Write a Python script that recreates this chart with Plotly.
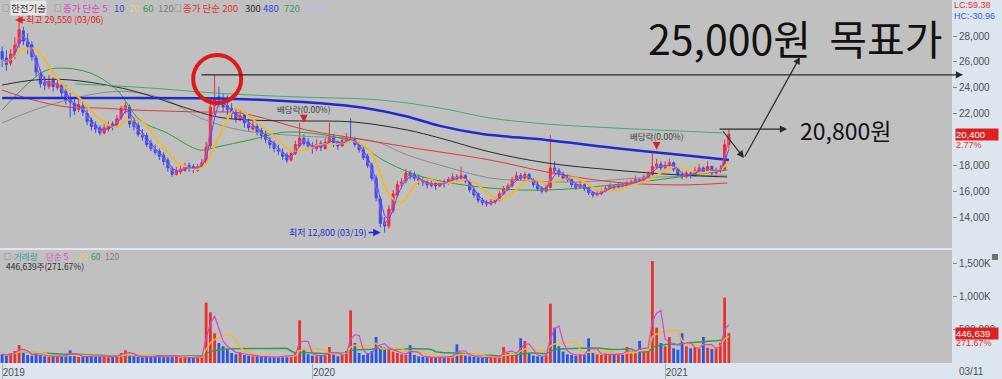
import plotly.graph_objects as go
import pandas as pd

# ---------------- data (one bar per ~3 trading days) ----------------
bar_index = list(range(172))
opens = [26800, 26300, 25900, 26500, 27400, 28400, 27500, 27300, 26300, 25100,
         24400, 24100, 24600, 24000, 24200, 23700, 23100, 22800, 22300, 22600,
         22000, 21500, 21100, 20900, 20500, 20800, 21200, 21000, 21700, 22300,
         22500, 21300, 21100, 20300, 20300, 19700, 19200, 19100, 18800, 18400,
         17700, 17300, 17500, 17600, 18000, 17900, 17600, 17900, 18200, 19500,
         22600, 23300, 23000, 22600, 22400, 22100, 21500, 21900, 21200, 20800,
         21000, 20700, 20400, 19900, 19700, 19200, 19000, 18800, 18400, 18900,
         19500, 20100, 19800, 19500, 19300, 19700, 19300, 19800, 20200, 19800,
         19500, 19900, 20000, 20000, 19700, 19200, 18700, 18000, 17000, 15400,
         13600, 13300, 14500, 15700, 16600, 16800, 17400, 17300, 17000, 16900,
         16700, 16400, 16600, 16400, 16700, 16600, 16900, 17100, 17000, 17200,
         16800, 16100, 15800, 15300, 15100, 15000, 15200, 15300, 15800, 16200,
         16400, 16900, 17200, 17000, 17300, 16900, 16500, 16200, 16000, 16300,
         17800, 17600, 17300, 17000, 16900, 16500, 16300, 16500, 16200, 15900,
         15700, 15800, 16000, 16200, 16400, 16300, 16500, 16400, 16600, 16700,
         16900, 16800, 17100, 17300, 17900, 18100, 17800, 18000, 18200, 17700,
         17300, 17100, 17400, 17200, 17600, 17800, 17500, 17900, 17400, 17600,
         17700, 19600]
highs = [27200, 26900, 27000, 27900, 29550, 28700, 28200, 27600, 26500, 25400,
         24900, 25000, 24800, 24700, 24400, 24200, 23600, 23100, 23200, 22900,
         22300, 21700, 21400, 21100, 21200, 21400, 21400, 21900, 22600, 22900,
         22700, 21700, 21300, 20800, 20500, 20000, 19600, 19300, 19000, 18600,
         17900, 17900, 18000, 18200, 18200, 18100, 18100, 18500, 19800, 23000,
         25000, 24100, 23500, 23400, 22800, 22400, 22300, 22100, 21600, 21500,
         21300, 20900, 20700, 20200, 19900, 19600, 19300, 19000, 19200, 19900,
         21270, 20400, 20100, 19800, 20000, 19900, 20100, 21300, 20400, 19900,
         20300, 20500, 21650, 20200, 19800, 19400, 18900, 18200, 17200, 15600,
         14000, 14900, 16100, 16800, 17000, 17700, 17600, 17500, 17300, 17100,
         16900, 16900, 16800, 16900, 16900, 17100, 17400, 17300, 17900, 17300,
         16900, 16300, 15900, 15500, 15300, 15400, 15500, 16000, 16400, 16600,
         17100, 17500, 17400, 17500, 17400, 17000, 16700, 16400, 16500, 20350,
         18300, 17800, 17500, 17300, 17000, 16700, 16800, 16600, 16300, 16000,
         16000, 16200, 16400, 16600, 16500, 16700, 16600, 16800, 16900, 17200,
         17000, 17300, 17500, 18950, 18500, 18300, 18300, 18500, 18300, 17800,
         17500, 17600, 17500, 17900, 18100, 17900, 18300, 18000, 17800, 18000,
         20000, 20800]
lows = [25600, 25300, 25700, 26200, 27100, 27300, 26600, 26100, 24900, 24000,
        23800, 23900, 23700, 23800, 23300, 22700, 21700, 21900, 22100, 21800,
        21100, 20700, 20500, 20300, 20400, 20600, 20700, 20900, 21500, 22000,
        20900, 20700, 20200, 19900, 19400, 19100, 18800, 18400, 18000, 17500,
        17100, 17200, 17300, 17500, 17500, 17400, 17500, 17800, 18100, 19300,
        21900, 22500, 22100, 21900, 21600, 21300, 21400, 20900, 20600, 20700,
        20300, 20000, 19700, 19300, 19000, 18800, 18400, 18200, 18300, 18800,
        19400, 19500, 19200, 18900, 19100, 19100, 19200, 19600, 19400, 19200,
        19400, 19700, 19800, 19400, 19000, 18400, 17800, 16800, 15200, 13200,
        12800, 13100, 14300, 15500, 16200, 16600, 16900, 16800, 16500, 16400,
        16200, 16300, 16100, 16300, 16300, 16500, 16800, 16800, 16900, 16600,
        15900, 15500, 15100, 14900, 14800, 14900, 15000, 15200, 15700, 16000,
        16300, 16800, 16800, 16900, 16700, 16300, 16000, 15800, 15900, 16200,
        17300, 17100, 16800, 16700, 16300, 16100, 16200, 16000, 15700, 15500,
        15600, 15700, 15900, 16100, 16100, 16200, 16200, 16300, 16500, 16600,
        16600, 16700, 17000, 17200, 17700, 17600, 17700, 17900, 17500, 17100,
        16900, 17000, 17000, 17100, 17500, 17300, 17400, 17200, 17300, 17400,
        17600, 19300]
closes = [26200, 25800, 26600, 27300, 28500, 27600, 27200, 26400, 25200, 24300,
          24200, 24500, 24100, 24300, 23600, 23000, 22900, 22200, 22700, 22100,
          21400, 21000, 20800, 20500, 20900, 21100, 21000, 21600, 22400, 22600,
          21200, 21000, 20400, 20200, 19600, 19300, 19000, 18700, 18300, 17800,
          17300, 17600, 17700, 17900, 17800, 17700, 17900, 18200, 19400, 22500,
          23200, 22900, 22500, 22300, 22000, 21600, 21800, 21300, 20900, 21000,
          20600, 20300, 20000, 19600, 19300, 19100, 18700, 18400, 18900, 19600,
          20100, 19700, 19500, 19300, 19600, 19400, 19800, 20200, 19700, 19500,
          19900, 20100, 20000, 19600, 19200, 18600, 18000, 17000, 15500, 13500,
          13300, 14600, 15800, 16500, 16700, 17400, 17200, 17000, 16800, 16700,
          16500, 16600, 16400, 16700, 16600, 16900, 17100, 17000, 17200, 16800,
          16100, 15700, 15300, 15100, 15000, 15200, 15300, 15800, 16200, 16400,
          16900, 17200, 17000, 17300, 16900, 16500, 16200, 16000, 16300, 17800,
          17600, 17300, 17000, 16900, 16500, 16300, 16500, 16200, 15900, 15700,
          15800, 16000, 16200, 16400, 16300, 16500, 16400, 16600, 16700, 16900,
          16800, 17100, 17300, 17900, 18100, 17800, 18000, 18200, 17700, 17300,
          17100, 17400, 17200, 17600, 17800, 17500, 17900, 17400, 17600, 17700,
          19600, 20400]
volumes_k = [130, 110, 150, 180, 270, 160, 120, 110, 140, 120,
             100, 90, 110, 95, 100, 120, 190, 110, 90, 100,
             95, 110, 100, 120, 90, 85, 100, 110, 150, 190,
             130, 100, 90, 85, 100, 95, 90, 110, 100, 120,
             110, 90, 80, 85, 75, 80, 90, 110, 905, 760,
             445, 300, 250, 200, 150, 130, 160, 120, 110, 100,
             100, 90, 95, 85, 90, 100, 95, 110, 120, 150,
             640, 200, 130, 110, 100, 120, 110, 240, 130, 100,
             120, 180, 790, 300, 150, 120, 140, 180, 390, 250,
             230, 200, 170, 150, 130, 120, 270, 120, 100, 90,
             85, 90, 80, 85, 90, 100, 110, 280, 150, 110,
             100, 90, 85, 80, 85, 90, 95, 110, 240, 150,
             140, 150, 370, 330, 150, 110, 100, 95, 120, 890,
             530, 250, 170, 130, 120, 110, 130, 120, 370, 150,
             130, 120, 140, 130, 120, 150, 140, 240, 160, 150,
             330, 170, 180, 1530, 530, 300, 250, 390, 220, 200,
             445, 250, 220, 230, 210, 390, 230, 210, 220, 300,
             980, 446.639]

# long moving averages (bar index, price)
ma60_idx = [0, 9.6, 13.6, 20.7, 27, 32.4, 38.8, 46.6, 50.6, 58.3, 67.7, 83.5, 89.6, 99, 114.8, 128.2, 143.7, 159.5, 170.6]
ma60_val = [22280, 25220, 25520, 25140, 23820, 21500, 20500, 19180, 19420, 19960, 20580, 19720, 18410, 17100, 16240, 16090, 16480, 17100, 17640]
ma120_idx = [0, 8.9, 23, 30.8, 38.8, 46.6, 56, 70, 87.3, 95.3, 103, 114.8, 124.2, 136, 150.1, 170.6]
ma120_val = [21270, 22430, 23590, 23670, 23050, 21660, 20730, 20270, 19880, 18800, 18020, 17020, 16790, 16710, 17020, 17250]
ma200_idx = [0, 7.3, 15.3, 23, 30.8, 46.6, 56, 71.7, 82.6, 95.3, 114.8, 128.2, 143.7, 159.5, 170.6]
ma200_val = [23820, 23050, 22510, 22430, 22280, 22120, 22050, 20730, 20110, 19420, 18410, 17480, 16710, 16480, 16630]
ma300_idx = [0, 7.8, 16, 30.1, 42.6, 50.6, 58.3, 70, 82.6, 95.3, 103, 114.8, 128.2, 143.7, 159.5, 170.6]
ma300_val = [24210, 24600, 24600, 23820, 22510, 21740, 21500, 21430, 21350, 20730, 20110, 19030, 18180, 17640, 17250, 17100]
ma480_idx = [0, 23, 47, 55, 65, 75, 85, 95, 103, 113, 128, 144, 160, 171]
ma480_val = [23200, 23200, 23180, 23130, 23000, 22800, 22450, 21800, 21050, 20420, 19960, 19340, 18800, 18410]
ma720_idx = [17.2, 34.8, 46.6, 58.3, 70, 88.9, 103, 114.8, 128.2, 143.7, 159.5, 169.4]
ma720_val = [24290, 23980, 23670, 23440, 23280, 23050, 22430, 21660, 21190, 20890, 20650, 20500]

year_tick_index = [0, 73, 156]
year_tick_labels = ["2019", "2020", "2021"]
last_date_label = "03/11"
price_ticks = [14000, 16000, 18000, 22000, 24000, 26000, 28000]
vol_ticks = [500000, 1000000, 1500000]
vol_tick_labels = ["500,000", "1,000K", "1,500K"]
dividend_bars = [71, 154]

# ---------------- styling / layout constants ----------------
W, H = 1002, 379
MR, MB = 50, 16
PW, PH = W - MR, H - MB
PX_PER_BAR = 4.25
RED = "#e8302c"
BLUE = "#2a55e0"
BG = "#c0c0c0"
PAPER = "#dde5ee"
TXT = "#505050"
FONT_KR = "Noto Sans CJK KR"
FONT_AX = "Liberation Sans Narrow, Liberation Sans, Arial"

def xp(px):
    return px / PW

def yp(py):
    return 1 - py / PH

close_s = pd.Series(closes)
vol = [v * 1000 for v in volumes_k]
vol_s = pd.Series(vol)
bar_windows = {5: 2, 10: 3, 20: 7, 60: 20}

fig = go.Figure()
fig.add_trace(go.Candlestick(
    x=bar_index, open=opens, high=highs, low=lows, close=closes,
    increasing=dict(line=dict(color=RED, width=1), fillcolor=RED),
    decreasing=dict(line=dict(color=BLUE, width=1), fillcolor=BLUE),
    whiskerwidth=0, xaxis="x", yaxis="y", showlegend=False, hoverinfo="skip"))

def line(x, y, color, width, yaxis="y", shape="linear"):
    fig.add_trace(go.Scatter(x=x, y=y, mode="lines", line=dict(color=color, width=width, shape=shape),
                             xaxis="x", yaxis=yaxis, showlegend=False, hoverinfo="skip"))

line(ma120_idx, ma120_val, "#8c8c8c", 1, shape="spline")
line(ma60_idx, ma60_val, "#2f9e44", 1, shape="spline")
line(ma200_idx, ma200_val, "#e03a3a", 1, shape="spline")
line(ma300_idx, ma300_val, "#2a2a2a", 1, shape="spline")
line(ma720_idx, ma720_val, "#3fae6a", 1, shape="spline")
line(ma480_idx, ma480_val, "#1f2ad0", 2.5, shape="spline")
line(bar_index, close_s.rolling(bar_windows[20], min_periods=1).mean(), "#f2b632", 2)
line(bar_index, close_s.rolling(bar_windows[10], min_periods=1).mean(), "#3b5bff", 1)
line(bar_index, close_s.rolling(bar_windows[5], min_periods=1).mean(), "#e044d8", 1)

vol_colors = [RED if c >= o else BLUE for o, c in zip(opens, closes)]
fig.add_trace(go.Bar(x=bar_index, y=vol, marker=dict(color=vol_colors, line=dict(width=0)),
                     width=0.65, xaxis="x", yaxis="y2", showlegend=False, hoverinfo="skip"))
line(bar_index, vol_s.rolling(bar_windows[60], min_periods=1).mean(), "#2f9e44", 1.5, "y2")
line(bar_index, vol_s.rolling(bar_windows[20], min_periods=1).mean(), "#f2b632", 1.5, "y2")
line(bar_index, vol_s.rolling(3, min_periods=1).mean(), "#d444d0", 1.2, "y2")

ann = []
def text(px, py, s, color, size, anchor="left", family=FONT_KR, bg=None):
    d = dict(xref="paper", yref="paper", x=xp(px), y=yp(py), text=s, showarrow=False,
             xanchor=anchor, yanchor="middle", font=dict(family=family, size=size, color=color),
             borderpad=0)
    if bg:
        d["bgcolor"] = bg
    ann.append(d)

# price legend
for px, s, c, bg, sz in [(1, "□", "#6a6a6a", None, 7.5), (10, "한전기술", "#383838", "#e6e6e6", 9.5),
                         (53, "□", "#6a6a6a", None, 7.5), (62, "종가 단순 5", "#e040c8", None, 9.5),
                         (113, "10", "#3048e0", None, 9.5), (128, "20", "#e8d070", None, 9.5),
                         (142, "60", "#2f9e44", None, 9.5), (157, "120", "#7a7a7a", None, 9.5),
                         (173, "□", "#6a6a6a", None, 7.5), (182, "종가 단순 200", "#e03030", None, 9.5),
                         (244, "300", "#2a2a2a", None, 9.5), (262, "480", "#3048e0", None, 9.5),
                         (283, "720", "#2f9e60", None, 9.5), (303, "1200", "#c8b4ec", None, 9.5)]:
    text(px, 7.5, s, c, sz, bg=bg)
# volume legend
for px, s, c, sz in [(3, "□", "#6a6a6a", 7), (13, "거래량", "#2fa0a0", 8.5), (45, "단순 5", "#e040c8", 8.5),
                     (77, "20", "#e8d070", 8.5), (90, "60", "#2f9e44", 8.5), (104, "120", "#7a7a7a", 8.5)]:
    text(px, 256, s, c, sz)
text(5, 266, "446,639주(271.67%)", "#303030", 8.5)

# big callouts
text(647, 37, "25,000원  목표가", "#111111", 41)
text(799, 130, "20,800원", "#111111", 23)

# high / low markers
ann.append(dict(x=4, y=highs[4], xref="x", yref="y", text="최고 29,550 (03/06)", showarrow=True,
                ax=10, ay=0, xanchor="left", arrowhead=2, arrowsize=1, arrowwidth=1.5,
                arrowcolor="#e02020", xshift=-4, yshift=-4, borderpad=0,
                font=dict(family=FONT_KR, size=9, color="#e02020")))
ann.append(dict(x=90, y=lows[90], xref="x", yref="y", text="최저 12,800 (03/19)", showarrow=True,
                ax=-12, ay=0, xanchor="right", arrowhead=2, arrowsize=1, arrowwidth=1.5,
                arrowcolor="#2030d0", xshift=-4, font=dict(family=FONT_KR, size=9, color="#2030d0")))
# dividend markers
for b, off in zip(dividend_bars, [900, 700]):
    ann.append(dict(x=b, y=highs[b] + off, xref="x", yref="y", text="배당락(0.00%)", showarrow=True,
                    ax=0, ay=-14, arrowhead=2, arrowsize=1.3, arrowwidth=1.2, arrowcolor="#e02020",
                    font=dict(family=FONT_KR, size=8.5, color="#404040")))

# arrows
arrow = dict(text="", showarrow=True, arrowhead=2, arrowsize=1.2, arrowwidth=1.2, arrowcolor="#2a2a2a",
             axref="pixel", ayref="pixel")
ann.append(dict(arrow, xref="paper", yref="y", x=xp(963), y=25000, ax=200 - 963, ay=0))
ann.append(dict(arrow, xref="paper", yref="y", x=xp(787), y=20800, ax=718 - 787, ay=0))
ann.append(dict(arrow, xref="paper", yref="paper", x=xp(744), y=yp(158), ax=-22, ay=-28))
ann.append(dict(arrow, xref="paper", yref="paper", x=xp(800), y=yp(57), ax=-56, ay=101))

# right side info
text(953, 5.5, "LC:59.38", "#e03030", 9, family=FONT_AX)
text(953, 15.5, "HC:-30.96", "#3060d0", 9, family=FONT_AX)
ann.append(dict(xref="paper", yref="y", x=xp(955), y=closes[-1], text="20,400", showarrow=False,
                xanchor="left", yanchor="middle", bgcolor="#e02020", width=42, align="left",
                borderpad=0, font=dict(family=FONT_AX, size=9.5, color="white")))
text(955, 145, "2.77%", "#e03030", 9, family=FONT_AX)
ann.append(dict(xref="paper", yref="y2", x=xp(955), y=vol[-1], text="446,639", showarrow=False,
                xanchor="left", yanchor="middle", bgcolor="#e02020", width=42, align="left",
                borderpad=0, font=dict(family=FONT_AX, size=9.5, color="white")))
text(955, 343, "271.67%", "#e03030", 9, family=FONT_AX)
text(958, 371, last_date_label, TXT, 10, family=FONT_AX)

shapes = [
    dict(type="circle", xref="x", yref="y", xsizemode="pixel", ysizemode="pixel",
         xanchor=50.6, yanchor=24670, x0=-24, x1=24, y0=-24, y1=24,
         line=dict(color="#e01818", width=4)),
    dict(type="rect", xref="paper", yref="paper", x0=xp(992), x1=xp(998), y0=yp(260), y1=yp(254),
         fillcolor="#6e6e6e", line=dict(width=0)),
]

price_top = 28000 + 36 / 0.01293
price_bot = 28000 - (248 - 36) / 0.01293
vol_top = 1500000 * (PH - 250) / (PH - 263)

fig.update_layout(
    width=W, height=H, margin=dict(l=0, r=MR, t=0, b=MB),
    paper_bgcolor=PAPER, plot_bgcolor=BG, showlegend=False,
    annotations=ann, shapes=shapes,
    xaxis=dict(domain=[0, 1], range=[-0.5, PW / PX_PER_BAR - 0.5], type="linear", anchor="y2",
               tickvals=year_tick_index, ticktext=year_tick_labels, ticks="outside", ticklen=16,
               tickcolor="#aab2bc", ticklabelposition="outside right", showgrid=False,
               zeroline=False, rangeslider=dict(visible=False),
               tickfont=dict(family=FONT_AX, size=10, color=TXT)),
    yaxis=dict(domain=[1 - 248 / PH, 1], range=[price_bot, price_top], side="right", anchor="x",
               tickvals=price_ticks, tickformat=",", ticks="outside", ticklen=4, tickcolor="#8a8a8a",
               showgrid=False, zeroline=False, tickfont=dict(family=FONT_AX, size=10, color=TXT)),
    yaxis2=dict(domain=[0, 1 - 250 / PH], range=[0, vol_top], side="right", anchor="x",
                tickvals=vol_ticks, ticktext=vol_tick_labels, ticks="outside", ticklen=4,
                tickcolor="#8a8a8a", showgrid=False, zeroline=False,
                tickfont=dict(family=FONT_AX, size=10, color=TXT)),
    bargap=0.2,
)

fig.write_html("out.html")
